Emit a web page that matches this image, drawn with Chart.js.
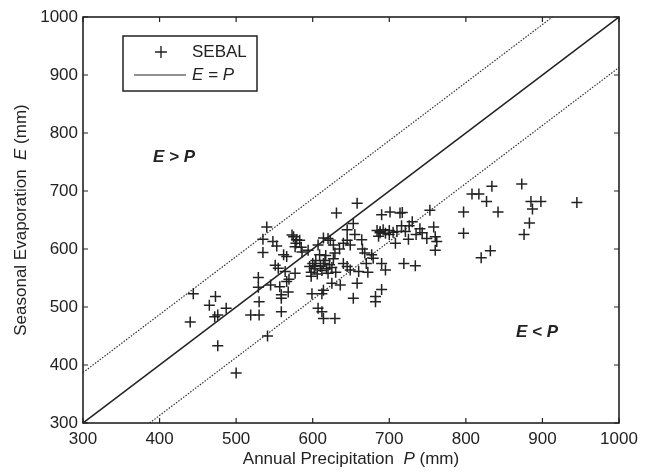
<!DOCTYPE html>
<html>
<head>
<meta charset="utf-8">
<script src="https://cdn.jsdelivr.net/npm/chart.js@4.4.0/dist/chart.umd.min.js"></script>
<style>
  body { margin: 0; background: #fff; }
  #wrap { width: 651px; height: 473px; position: relative; }
</style>
</head>
<body>
<div id="wrap"><canvas id="canvas"></canvas></div>
<script>
// annual precipitation P (mm) and seasonal evaporation E (mm)
const precip = [
  440, 444, 465, 473, 472, 476, 476, 487, 500, 519, 530, 530, 529, 529, 535, 535,
  540, 541, 545, 548, 551, 553, 555, 557, 559, 559, 559, 562, 564, 566, 568, 569,
  573, 575, 577, 577, 579, 583, 586, 566, 594, 596, 598, 600, 602, 604, 606, 607,
  609, 610, 612, 614, 614, 616, 618, 620, 620, 622, 623, 625, 627, 627, 629, 630,
  599, 612, 614, 607, 612, 614, 629, 625, 636, 640, 645, 645, 645, 649, 649, 653,
  653, 631, 658, 658, 660, 664, 665, 668, 670, 672, 677, 679, 682, 682, 688, 690,
  690, 692, 695, 690, 701, 714, 688, 695, 700, 705, 710, 719, 734, 708, 717, 721,
  726, 730, 735, 740, 743, 753, 758, 749, 760, 762, 760, 797, 797, 808, 817, 827,
  834, 842, 873, 876, 883, 885, 887, 898, 945, 832, 820, 684, 686, 598, 603, 617,
  578, 585, 635, 700, 716, 725, 655, 640
];
const evap = [
  474, 523, 503, 518, 483, 486, 433, 498, 386, 486, 486, 509, 551, 534, 617, 594,
  638, 450, 538, 613, 572, 605, 567, 535, 515, 521, 492, 590, 561, 544, 526, 548,
  624, 621, 604, 558, 616, 615, 595, 587, 598, 570, 560, 575, 566, 580, 557, 607,
  590, 570, 563, 619, 575, 580, 566, 618, 558, 573, 615, 568, 607, 583, 593, 560,
  523, 523, 529, 498, 492, 480, 480, 541, 538, 575, 570, 633, 615, 607, 564, 644,
  515, 662, 679, 541, 561, 616, 600, 593, 575, 560, 590, 584, 518, 509, 628, 530,
  575, 633, 564, 659, 664, 662, 630, 627, 632, 629, 630, 575, 571, 610, 663, 630,
  640, 647, 625, 635, 628, 667, 638, 618, 621, 613, 598, 664, 627, 695, 695, 682,
  708, 664, 712, 625, 645, 682, 669, 682, 680, 597, 585, 632, 622, 553, 571, 589,
  610, 603, 600, 625, 640, 617, 625, 610
];

const axisMin = 300;
const axisMax = 1000;
const tickValues = [300, 400, 500, 600, 700, 800, 900, 1000];
const bandOffset = 87; // dotted lines E = P +/- offset

const ink = '#222';
const fontFamily = '"Liberation Sans", Arial, Helvetica, sans-serif';
const fontSize = 17;

const points = precip.map((p, i) => ({x: p, y: evap[i]}));

// inward ticks, box frame, legend, axis titles and the two region labels
const decorations = {
  id: 'decorations',
  afterDraw(chart) {
    const {ctx, chartArea: a, scales: {x, y}} = chart;
    ctx.save();
    ctx.strokeStyle = ink;
    ctx.lineWidth = 1.6;
    ctx.strokeRect(a.left, a.top, a.right - a.left, a.bottom - a.top);

    ctx.lineWidth = 1.2;
    ctx.beginPath();
    for (const v of tickValues) {
      const px = x.getPixelForValue(v);
      ctx.moveTo(px, a.bottom); ctx.lineTo(px, a.bottom - 5);
      ctx.moveTo(px, a.top); ctx.lineTo(px, a.top + 5);
      const py = y.getPixelForValue(v);
      ctx.moveTo(a.left, py); ctx.lineTo(a.left + 5, py);
      ctx.moveTo(a.right, py); ctx.lineTo(a.right - 5, py);
    }
    ctx.stroke();

    // legend box
    ctx.lineWidth = 1.5;
    ctx.strokeRect(123, 36, 134, 55);
    ctx.lineWidth = 1.4;
    ctx.beginPath();
    ctx.moveTo(155, 52); ctx.lineTo(167, 52);
    ctx.moveTo(161, 46); ctx.lineTo(161, 58);
    ctx.stroke();
    ctx.lineWidth = 1;
    ctx.beginPath();
    ctx.moveTo(134, 75); ctx.lineTo(186, 75);
    ctx.stroke();

    ctx.fillStyle = ink;
    ctx.textBaseline = 'middle';
    ctx.textAlign = 'left';
    ctx.font = `${fontSize}px ${fontFamily}`;
    ctx.fillText('SEBAL', 192, 52);
    ctx.font = `italic ${fontSize}px ${fontFamily}`;
    ctx.fillText('E = P', 192, 75);

    // region labels
    ctx.font = `italic bold ${fontSize}px ${fontFamily}`;
    ctx.fillText('E > P', 153, 157);
    ctx.fillText('E < P', 516, 332);

    // x axis title with italic P
    const xParts = [
      ['Annual Precipitation  ', ''],
      ['P', 'italic '],
      [' (mm)', '']
    ];
    drawMixed(ctx, xParts, (a.left + a.right) / 2, 459);

    // y axis title, rotated
    ctx.save();
    ctx.translate(21, (a.top + a.bottom) / 2);
    ctx.rotate(-Math.PI / 2);
    const yParts = [
      ['Seasonal Evaporation  ', ''],
      ['E', 'italic '],
      [' (mm)', '']
    ];
    drawMixed(ctx, yParts, 0, 0);
    ctx.restore();
    ctx.restore();
  }
};

function drawMixed(ctx, parts, cx, cy) {
  let total = 0;
  for (const [text, style] of parts) {
    ctx.font = `${style}${fontSize}px ${fontFamily}`;
    total += ctx.measureText(text).width;
  }
  let xPos = cx - total / 2;
  ctx.textAlign = 'left';
  ctx.textBaseline = 'middle';
  for (const [text, style] of parts) {
    ctx.font = `${style}${fontSize}px ${fontFamily}`;
    ctx.fillText(text, xPos, cy);
    xPos += ctx.measureText(text).width;
  }
}

const tickFont = {family: fontFamily, size: fontSize};

const config = {
  type: 'scatter',
  data: {
    datasets: [
      {
        label: 'SEBAL',
        data: points,
        pointStyle: 'cross',
        pointRadius: 5.5,
        borderColor: ink,
        borderWidth: 1.5,
        backgroundColor: ink,
      },
      {
        label: 'E = P',
        data: [{x: axisMin, y: axisMin}, {x: axisMax, y: axisMax}],
        showLine: true,
        pointRadius: 0,
        borderColor: ink,
        borderWidth: 1.5,
      },
      {
        label: 'upper',
        data: [{x: axisMin, y: axisMin + bandOffset}, {x: axisMax - bandOffset, y: axisMax}],
        showLine: true,
        pointRadius: 0,
        borderColor: '#333',
        borderWidth: 1.2,
        borderDash: [1.5, 1.5],
      },
      {
        label: 'lower',
        data: [{x: axisMin + bandOffset, y: axisMin}, {x: axisMax, y: axisMax - bandOffset}],
        showLine: true,
        pointRadius: 0,
        borderColor: '#333',
        borderWidth: 1.2,
        borderDash: [1.5, 1.5],
      },
    ],
  },
  options: {
    responsive: true,
    maintainAspectRatio: false,
    animation: false,
    layout: {padding: {top: 17, right: 32, left: 0, bottom: 0}},
    plugins: {
      legend: {display: false},
      tooltip: {enabled: false},
    },
    scales: {
      x: {
        type: 'linear',
        min: axisMin,
        max: axisMax,
        afterFit: scale => { scale.height = 50; },
        afterBuildTicks: scale => { scale.ticks = tickValues.map(v => ({value: v})); },
        grid: {display: false, drawTicks: false},
        border: {display: false},
        ticks: {
          color: ink,
          padding: 6,
          maxRotation: 0,
          font: tickFont,
          callback: v => String(v),
        },
      },
      y: {
        type: 'linear',
        min: axisMin,
        max: axisMax,
        afterFit: scale => { scale.width = 83; },
        afterBuildTicks: scale => { scale.ticks = tickValues.map(v => ({value: v})); },
        grid: {display: false, drawTicks: false},
        border: {display: false},
        ticks: {
          color: ink,
          padding: 5,
          font: tickFont,
          callback: v => String(v),
        },
      },
    },
  },
  plugins: [decorations],
};

document.addEventListener('DOMContentLoaded', () => {
  const context = document.getElementById('canvas').getContext('2d');
  new Chart(context, config);
});
</script>
</body>
</html>
